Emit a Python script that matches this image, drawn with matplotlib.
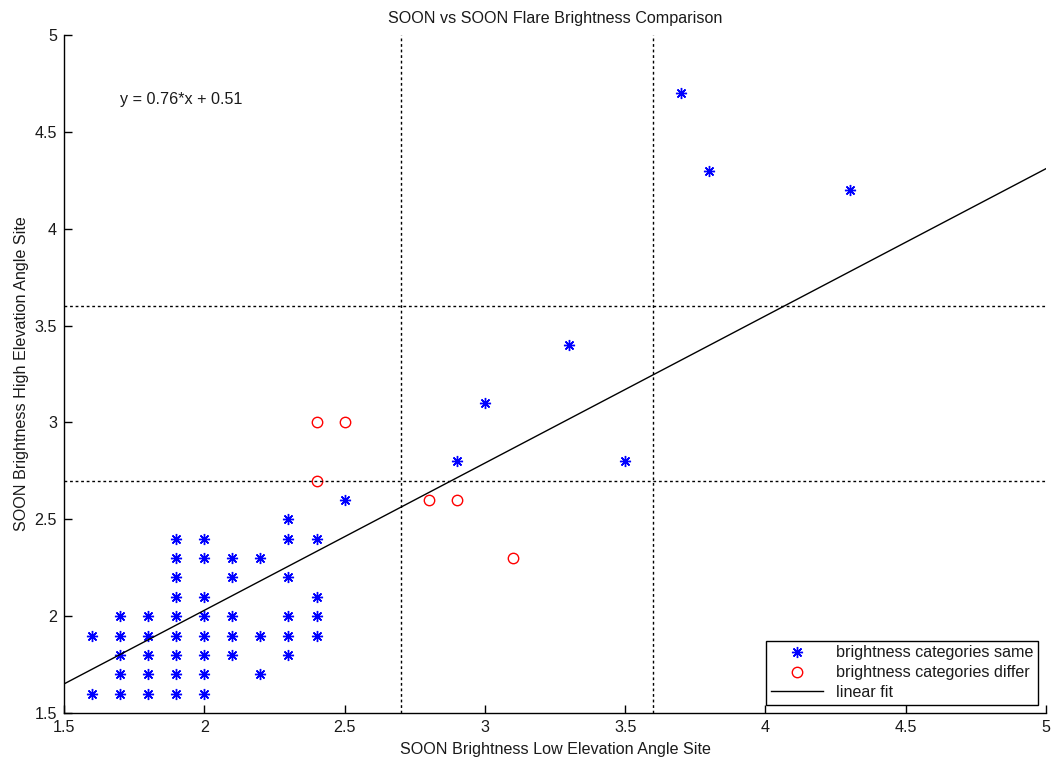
import matplotlib
matplotlib.use("Agg")
import matplotlib.pyplot as plt
import numpy as np

plt.rcParams['font.family'] = ['Liberation Sans', 'DejaVu Sans']
plt.rcParams['text.color'] = '#1a1a1a'
plt.rcParams['axes.labelcolor'] = '#1a1a1a'
plt.rcParams['xtick.labelcolor'] = '#1a1a1a'
plt.rcParams['ytick.labelcolor'] = '#1a1a1a'

# Points where brightness categories are the same
same_x = [1.6, 1.6,
          1.7, 1.7, 1.7, 1.7, 1.7,
          1.8, 1.8, 1.8, 1.8, 1.8,
          1.9, 1.9, 1.9, 1.9, 1.9, 1.9, 1.9, 1.9, 1.9,
          2.0, 2.0, 2.0, 2.0, 2.0, 2.0, 2.0, 2.0,
          2.1, 2.1, 2.1, 2.1, 2.1,
          2.2, 2.2, 2.2,
          2.3, 2.3, 2.3, 2.3, 2.3, 2.3,
          2.4, 2.4, 2.4, 2.4,
          2.5,
          2.9, 3.0, 3.3, 3.5, 3.7, 3.8, 4.3]
same_y = [1.9, 1.6,
          2.0, 1.9, 1.8, 1.7, 1.6,
          2.0, 1.9, 1.8, 1.7, 1.6,
          2.4, 2.3, 2.2, 2.1, 2.0, 1.9, 1.8, 1.7, 1.6,
          2.4, 2.3, 2.1, 2.0, 1.9, 1.8, 1.7, 1.6,
          2.3, 2.2, 2.0, 1.9, 1.8,
          2.3, 1.9, 1.7,
          2.5, 2.4, 2.2, 2.0, 1.9, 1.8,
          2.4, 2.1, 2.0, 1.9,
          2.6,
          2.8, 3.1, 3.4, 2.8, 4.7, 4.3, 4.2]

# Points where brightness categories differ
differ_x = [2.4, 2.5, 2.4, 2.8, 2.9, 3.1]
differ_y = [3.0, 3.0, 2.7, 2.6, 2.6, 2.3]

# Linear fit coefficients
fit_slope = 0.76
fit_intercept = 0.51

# Category thresholds
thresholds = [2.7, 3.6]

x_ticks = [1.5, 2, 2.5, 3, 3.5, 4, 4.5, 5]
y_ticks = [1.5, 2, 2.5, 3, 3.5, 4, 4.5, 5]
tick_labels = ['1.5', '2', '2.5', '3', '3.5', '4', '4.5', '5']

FS = 11.6

fig = plt.figure(figsize=(10.55, 7.61), dpi=100)
ax = fig.add_axes([64/1055, 1 - 713/761, (1046-64)/1055, (713-35)/761])

ax.plot(same_x, same_y, linestyle='none', marker=(8, 2, 0), markersize=8,
        markeredgewidth=1.0, color='#0000ff', label='brightness categories same')
ax.plot(differ_x, differ_y, linestyle='none', marker='o', markersize=7.5,
        markerfacecolor='none', markeredgecolor='#ff0000', markeredgewidth=1.0,
        label='brightness categories differ')
xf = np.array([1.5, 5.0])
ax.plot(xf, fit_slope * xf + fit_intercept, color='black', linewidth=1.0,
        label='linear fit')

for t in thresholds:
    ax.axvline(t, color='black', linestyle=(0, (2, 2)), linewidth=1.0)
    ax.axhline(t, color='black', linestyle=(0, (2, 2)), linewidth=1.0)

ax.text(1.7, 4.665, 'y = %.2f*x + %.2f' % (fit_slope, fit_intercept),
        fontsize=FS, va='center', ha='left')

ax.set_xlim(1.5, 5)
ax.set_ylim(1.5, 5)
ax.set_xticks(x_ticks)
ax.set_yticks(y_ticks)
ax.set_xticklabels(tick_labels)
ax.set_yticklabels(tick_labels)
ax.tick_params(direction='in', length=6, width=1, labelsize=FS, pad=5)
ax.spines['top'].set_visible(False)
ax.spines['right'].set_visible(False)
for s in ['left', 'bottom']:
    ax.spines[s].set_linewidth(1.0)

ax.set_title('SOON vs SOON Flare Brightness Comparison', fontsize=FS, pad=9)
ax.set_xlabel('SOON Brightness Low Elevation Angle Site', fontsize=FS, labelpad=5)
ax.set_ylabel('SOON Brightness High Elevation Angle Site', fontsize=FS, labelpad=4)

leg = ax.legend(loc='lower right', fontsize=FS, frameon=True, fancybox=False,
                edgecolor='black', framealpha=1, borderaxespad=0.5,
                handlelength=3.2, labelspacing=0.3, borderpad=0.3)
leg.get_frame().set_linewidth(1.0)

fig.savefig('out.png', dpi=100)
